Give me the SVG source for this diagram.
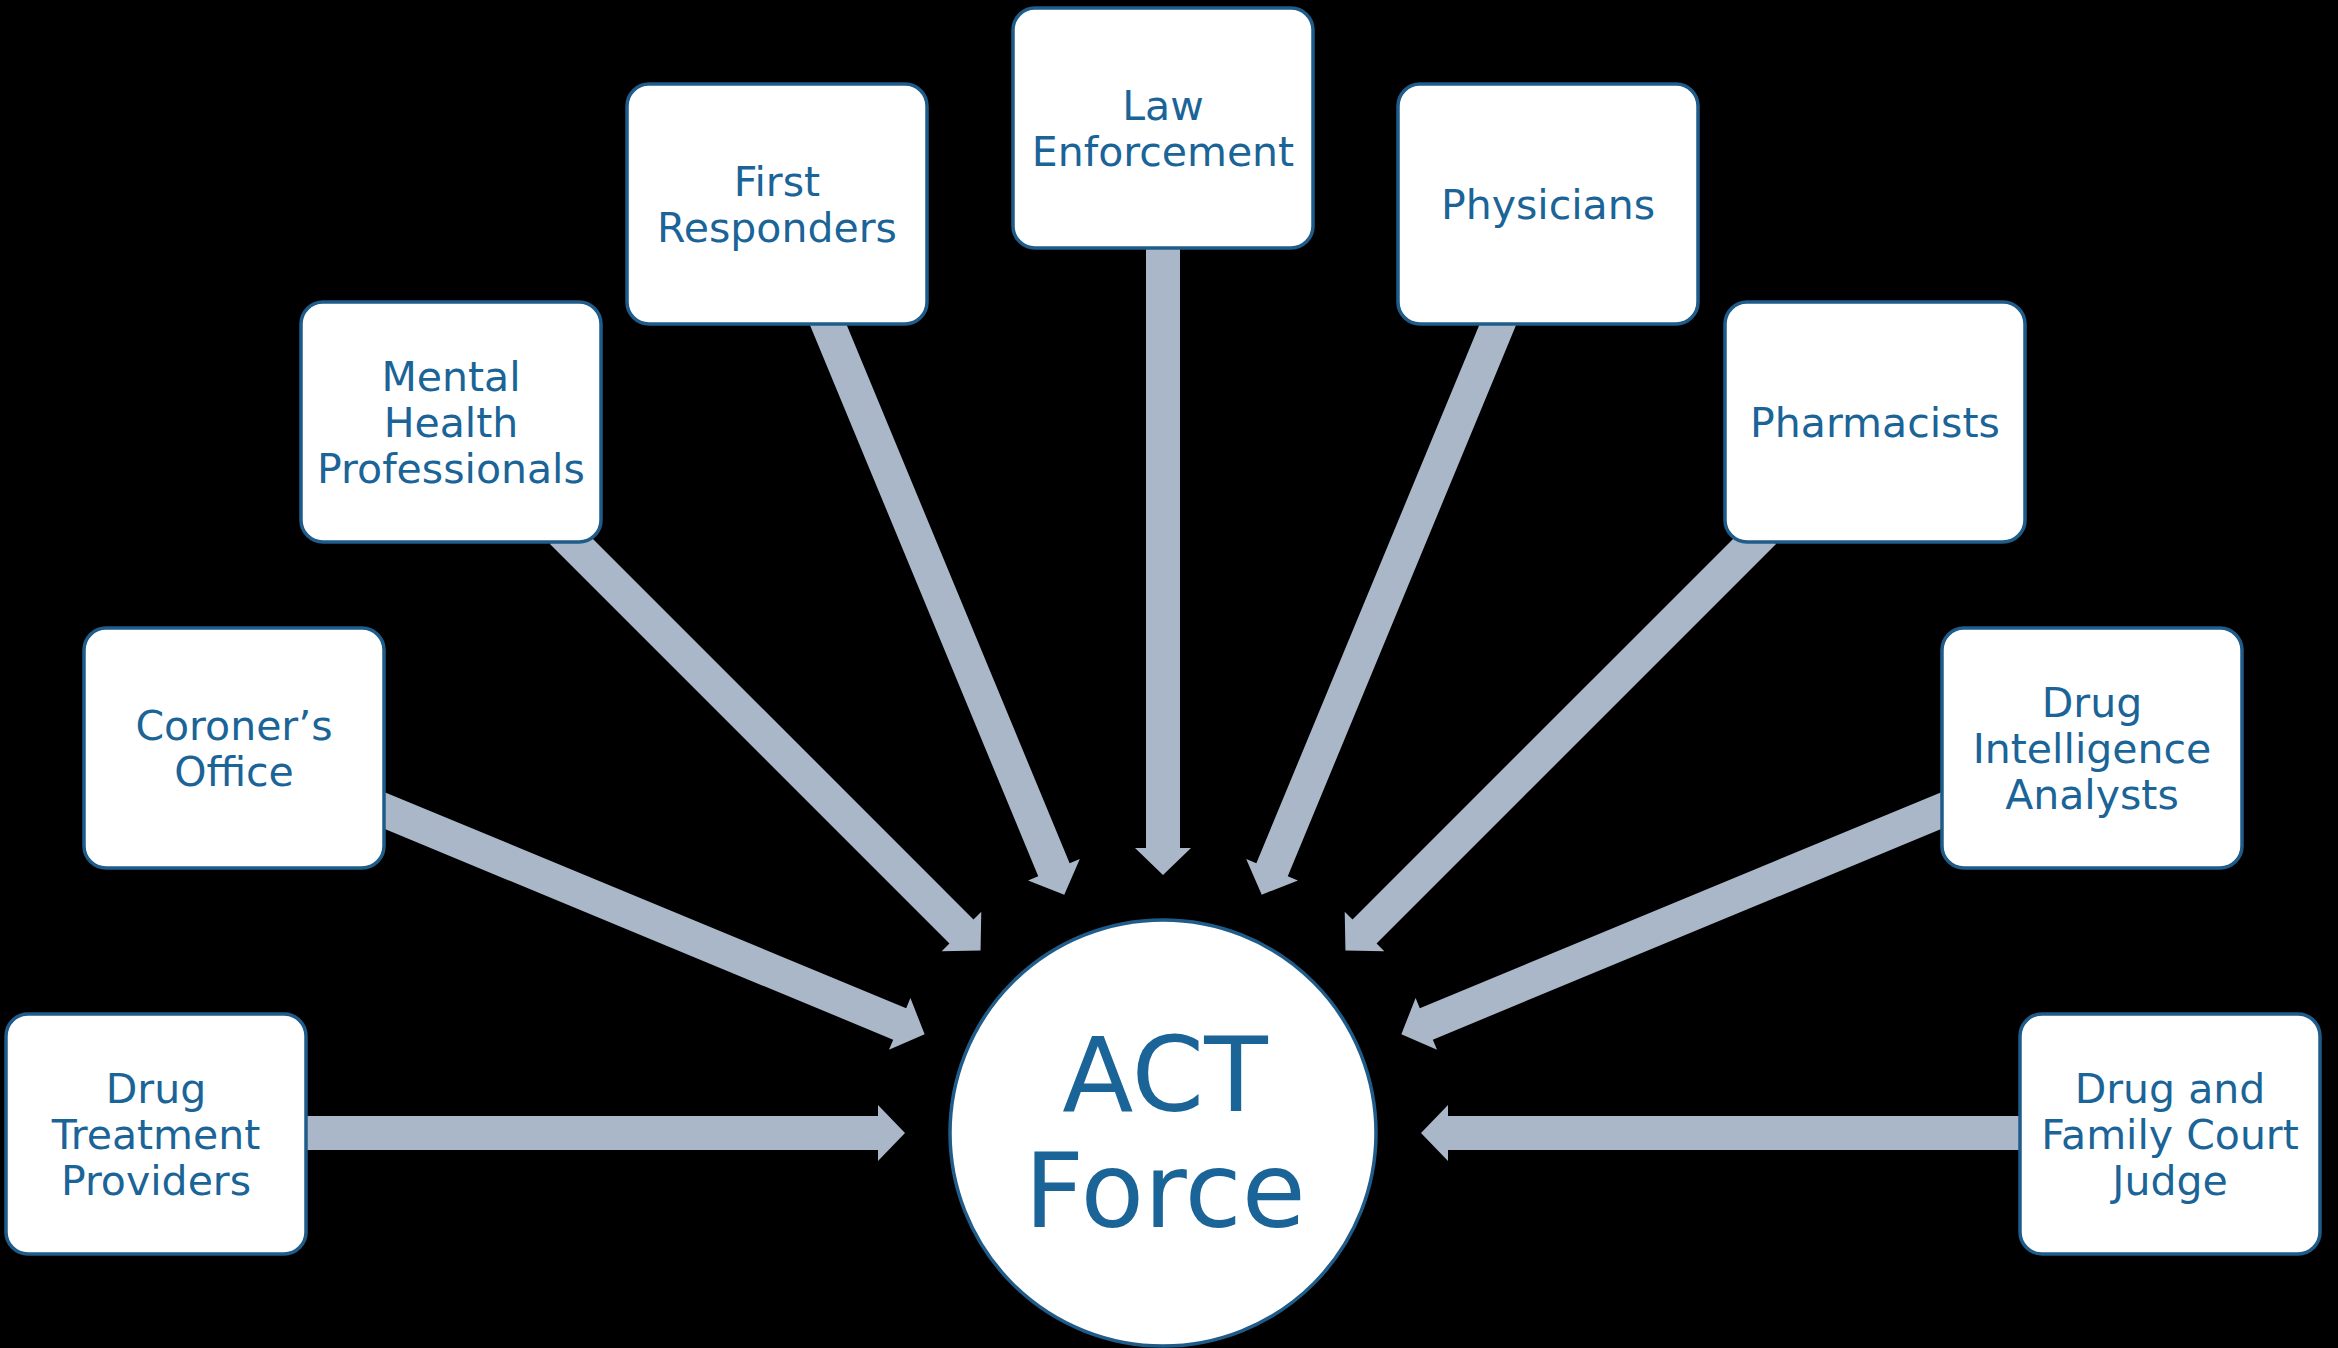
<svg xmlns="http://www.w3.org/2000/svg" width="2338" height="1348" viewBox="0 0 2338 1348">
<style>
.box{fill:#ffffff;stroke:#1f5c8a;stroke-width:3.5}
.lbl{font-family:"DejaVu Sans","Liberation Sans",sans-serif;font-size:41px;fill:#1b6498;text-anchor:middle}
.big{font-family:"DejaVu Sans","Liberation Sans",sans-serif;font-size:104px;fill:#1b6498;text-anchor:middle}
.arr{fill:#a9b7c9}
</style>
<rect x="0" y="0" width="2338" height="1348" fill="#000000"/>
<g id="connectors" transform="translate(1163,1133)">
<polygon class="arr" transform="rotate(180)" points="258,0 285,-28 285,-17 870,-17 870,17 285,17 285,28"/>
<polygon class="arr" transform="rotate(202.5)" points="258,0 285,-28 285,-17 860,-17 860,17 285,17 285,28"/>
<polygon class="arr" transform="rotate(225)" points="258,0 285,-28 285,-17 850,-17 850,17 285,17 285,28"/>
<polygon class="arr" transform="rotate(247.5)" points="258,0 285,-28 285,-17 890,-17 890,17 285,17 285,28"/>
<polygon class="arr" transform="rotate(270)" points="258,0 285,-28 285,-17 900,-17 900,17 285,17 285,28"/>
<polygon class="arr" transform="rotate(292.5)" points="258,0 285,-28 285,-17 890,-17 890,17 285,17 285,28"/>
<polygon class="arr" transform="rotate(315)" points="258,0 285,-28 285,-17 850,-17 850,17 285,17 285,28"/>
<polygon class="arr" transform="rotate(337.5)" points="258,0 285,-28 285,-17 860,-17 860,17 285,17 285,28"/>
<polygon class="arr" transform="rotate(0)" points="258,0 285,-28 285,-17 870,-17 870,17 285,17 285,28"/>
</g>
<g id="node-drug-treatment">
<rect class="box" x="6" y="1014" width="300" height="240" rx="22"/>
<text class="lbl" x="156" y="1103">Drug</text>
<text class="lbl" x="156" y="1149">Treatment</text>
<text class="lbl" x="156" y="1195">Providers</text>
</g>
<g id="node-coroner">
<rect class="box" x="84" y="628" width="300" height="240" rx="22"/>
<text class="lbl" x="234" y="740">Coroner’s</text>
<text class="lbl" x="234" y="786">Office</text>
</g>
<g id="node-mental-health">
<rect class="box" x="301" y="302" width="300" height="240" rx="22"/>
<text class="lbl" x="451" y="391">Mental</text>
<text class="lbl" x="451" y="437">Health</text>
<text class="lbl" x="451" y="483">Professionals</text>
</g>
<g id="node-first-responders">
<rect class="box" x="627" y="84" width="300" height="240" rx="22"/>
<text class="lbl" x="777" y="196">First</text>
<text class="lbl" x="777" y="242">Responders</text>
</g>
<g id="node-law-enforcement">
<rect class="box" x="1013" y="8" width="300" height="240" rx="22"/>
<text class="lbl" x="1163" y="120">Law</text>
<text class="lbl" x="1163" y="166">Enforcement</text>
</g>
<g id="node-physicians">
<rect class="box" x="1398" y="84" width="300" height="240" rx="22"/>
<text class="lbl" x="1548" y="219">Physicians</text>
</g>
<g id="node-pharmacists">
<rect class="box" x="1725" y="302" width="300" height="240" rx="22"/>
<text class="lbl" x="1875" y="437">Pharmacists</text>
</g>
<g id="node-drug-intelligence">
<rect class="box" x="1942" y="628" width="300" height="240" rx="22"/>
<text class="lbl" x="2092" y="717">Drug</text>
<text class="lbl" x="2092" y="763">Intelligence</text>
<text class="lbl" x="2092" y="809">Analysts</text>
</g>
<g id="node-court-judge">
<rect class="box" x="2020" y="1014" width="300" height="240" rx="22"/>
<text class="lbl" x="2170" y="1103">Drug and</text>
<text class="lbl" x="2170" y="1149">Family Court</text>
<text class="lbl" x="2170" y="1195">Judge</text>
</g>
<g id="node-act-force">
<circle cx="1163" cy="1133" r="213" fill="#ffffff" stroke="#1f5c8a" stroke-width="3.5"/>
<text class="big" x="1165" y="1111">ACT</text>
<text class="big" x="1165" y="1227">Force</text>
</g>
</svg>
